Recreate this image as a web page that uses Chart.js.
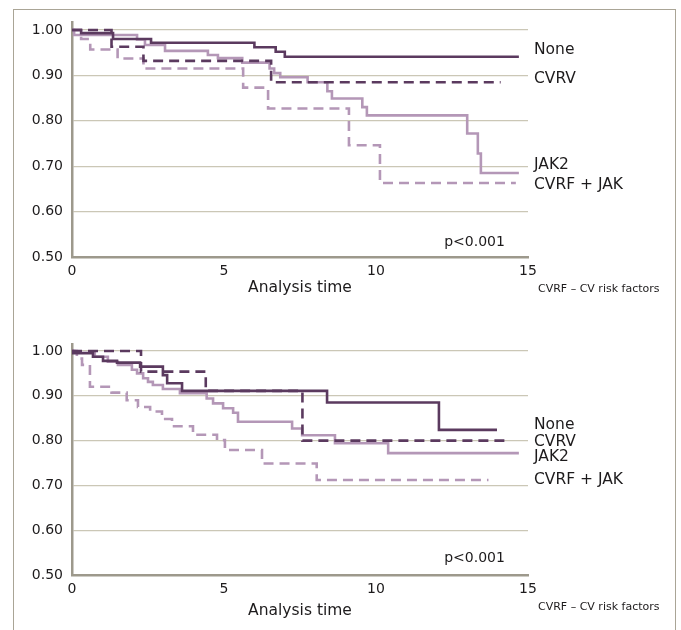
<!DOCTYPE html>
<html>
<head>
<meta charset="utf-8">
<script src="https://cdn.jsdelivr.net/npm/chart.js@4.4.1/dist/chart.umd.min.js"></script>
<style>
  body { margin: 0; background: #fff; width: 681px; height: 630px; overflow: hidden; position: relative; }
  .frame { position: absolute; left: 13px; top: 9px; width: 661px; height: 660px; border: 1.5px solid #aaa596; }
  canvas { position: absolute; left: 0; }
</style>
</head>
<body>
<div class="frame"></div>
<canvas id="topChart" width="681" height="310" style="top:0"></canvas>
<canvas id="bottomChart" width="681" height="310" style="top:320px"></canvas>
<script>
const groups = ['None', 'CVRV', 'JAK2', 'CVRF + JAK'];
const xTicks = [0, 5, 10, 15];
const yTicks = [0.5, 0.6, 0.7, 0.8, 0.9, 1.0];

// top panel - step times and survival after each step
const topNoneT = [0, 0.3, 1.35, 2.6, 6.0, 6.7, 7.0, 14.7];
const topNoneS = [1.0, 0.993, 0.98, 0.972, 0.962, 0.952, 0.941, 0.941];
const topCvrvT = [0, 1.3, 2.35, 6.55, 14.1];
const topCvrvS = [1.0, 0.963, 0.932, 0.885, 0.885];
const topJakT = [0, 0.07, 2.14, 2.4, 3.06, 4.47, 4.8, 5.6, 6.5, 6.65, 6.85, 7.75, 8.4, 8.55, 9.55, 9.7, 13.0, 13.35, 13.45, 14.7];
const topJakS = [1.0, 0.989, 0.979, 0.967, 0.954, 0.945, 0.938, 0.928, 0.915, 0.905, 0.896, 0.885, 0.865, 0.849, 0.83, 0.812, 0.772, 0.728, 0.685, 0.685];
const topBothT = [0, 0.3, 0.6, 1.5, 2.35, 5.63, 6.45, 9.11, 10.13, 14.6];
const topBothS = [1.0, 0.98, 0.957, 0.937, 0.915, 0.873, 0.827, 0.746, 0.663, 0.663];

// bottom panel
const botNoneT = [0, 0.03, 0.69, 1.02, 1.48, 2.24, 2.99, 3.13, 3.62, 8.39, 12.07, 13.98];
const botNoneS = [1.0, 0.995, 0.987, 0.978, 0.974, 0.965, 0.946, 0.928, 0.911, 0.885, 0.824, 0.824];
const botCvrvT = [0, 2.27, 4.4, 7.58, 14.24];
const botCvrvS = [1.0, 0.954, 0.911, 0.80, 0.80];
const botJakT = [0, 0.1, 0.75, 1.18, 1.51, 1.97, 2.14, 2.34, 2.5, 2.66, 2.99, 3.55, 4.43, 4.64, 4.97, 5.3, 5.46, 7.24, 7.57, 8.65, 10.4, 14.7];
const botJakS = [1.0, 0.996, 0.987, 0.976, 0.969, 0.958, 0.95, 0.939, 0.931, 0.924, 0.915, 0.906, 0.894, 0.883, 0.872, 0.862, 0.842, 0.827, 0.812, 0.794, 0.772, 0.772];
const botBothT = [0, 0.16, 0.33, 0.59, 1.3, 1.8, 2.17, 2.57, 2.96, 3.29, 3.98, 4.77, 5.03, 6.25, 8.05, 13.7];
const botBothS = [1.0, 0.983, 0.969, 0.92, 0.907, 0.89, 0.875, 0.865, 0.848, 0.832, 0.813, 0.801, 0.779, 0.749, 0.712, 0.712];

// where the group names sit (survival value), and the p-value anchor (time, survival)
const topLabelAt = [0.956, 0.892, 0.702, 0.658];
const botLabelAt = [0.835, 0.797, 0.763, 0.712];
const topPAt = [14.24, 0.532];
const botPAt = [14.24, 0.538];

const dark = '#5b3a5f';
const light = '#b497b7';
const colors = [dark, dark, light, light];
const dashes = [[], [10, 6], [], [10, 6]];
const axisGrey = '#9d998c';
const font = '"DejaVu Sans", sans-serif';

const panelText = {
  id: 'panelText',
  afterDraw(chart, args, opts) {
    const { ctx, chartArea, scales: { x, y } } = chart;
    ctx.save();
    ctx.fillStyle = '#1d1b1c';
    ctx.textBaseline = 'middle';
    ctx.textAlign = 'left';
    ctx.font = '15.5px ' + font;
    opts.labelAt.forEach((v, i) => {
      ctx.fillText(groups[i], chartArea.right + 6, y.getPixelForValue(v));
    });
    ctx.font = '14px ' + font;
    ctx.textAlign = 'right';
    ctx.fillText('p<0.001', x.getPixelForValue(opts.pAt[0]), y.getPixelForValue(opts.pAt[1]));
    ctx.font = '11px ' + font;
    ctx.textAlign = 'left';
    ctx.fillText('CVRF \u2013 CV risk factors', chartArea.right + 10, chartArea.bottom + 32);
    ctx.restore();
  }
};

const makeSeries = (t, s, i) => ({
  label: groups[i],
  data: t.map((v, k) => ({ x: v, y: s[k] })),
  borderColor: colors[i],
  borderDash: dashes[i],
  borderWidth: 2.6,
  stepped: true,
  pointRadius: 0,
  fill: false
});

const makeChart = (id, series, labelAt, pAt, layout) => {
  new Chart(document.getElementById(id), {
    type: 'line',
    data: { datasets: series.map((s, i) => makeSeries(s[0], s[1], i)) },
    plugins: [panelText],
    options: {
      responsive: false,
      animation: false,
      layout: { padding: { top: layout.top, right: 153, left: 0, bottom: 0 } },
      scales: {
        x: {
          type: 'linear',
          min: 0,
          max: 15,
          afterBuildTicks: (scale) => { scale.ticks = xTicks.map((v) => ({ value: v })); },
          afterFit: (scale) => { scale.height = layout.xHeight; },
          grid: { display: false, drawTicks: false },
          border: { color: axisGrey, width: 2.5 },
          ticks: { color: '#1d1b1c', font: { family: font, size: 14 }, padding: 6 },
          title: {
            display: true,
            text: 'Analysis time',
            color: '#1d1b1c',
            font: { family: font, size: 15.5 },
            padding: { top: 0, bottom: layout.titlePad }
          }
        },
        y: {
          min: 0.5,
          max: 1.016,
          afterBuildTicks: (scale) => { scale.ticks = yTicks.map((v) => ({ value: v })); },
          afterFit: (scale) => { scale.width = 72; },
          grid: {
            drawTicks: false,
            lineWidth: 1.3,
            color: (c) => (c.tick && c.tick.value === 0.5 ? 'rgba(0,0,0,0)' : '#cbc7b6')
          },
          border: { color: axisGrey, width: 2.5 },
          ticks: {
            color: '#1d1b1c',
            font: { family: font, size: 14 },
            padding: 9,
            callback: (v) => v.toFixed(2)
          }
        }
      },
      plugins: {
        legend: { display: false },
        tooltip: { enabled: false },
        panelText: { labelAt: labelAt, pAt: pAt }
      }
    }
  });
};

makeChart('topChart',
  [[topNoneT, topNoneS], [topCvrvT, topCvrvS], [topJakT, topJakS], [topBothT, topBothS]],
  topLabelAt, topPAt, { top: 22.7, xHeight: 53, titlePad: 12.7 });

makeChart('bottomChart',
  [[botNoneT, botNoneS], [botCvrvT, botCvrvS], [botJakT, botJakS], [botBothT, botBothS]],
  botLabelAt, botPAt, { top: 23.8, xHeight: 55, titlePad: 9.7 });
</script>
</body>
</html>
